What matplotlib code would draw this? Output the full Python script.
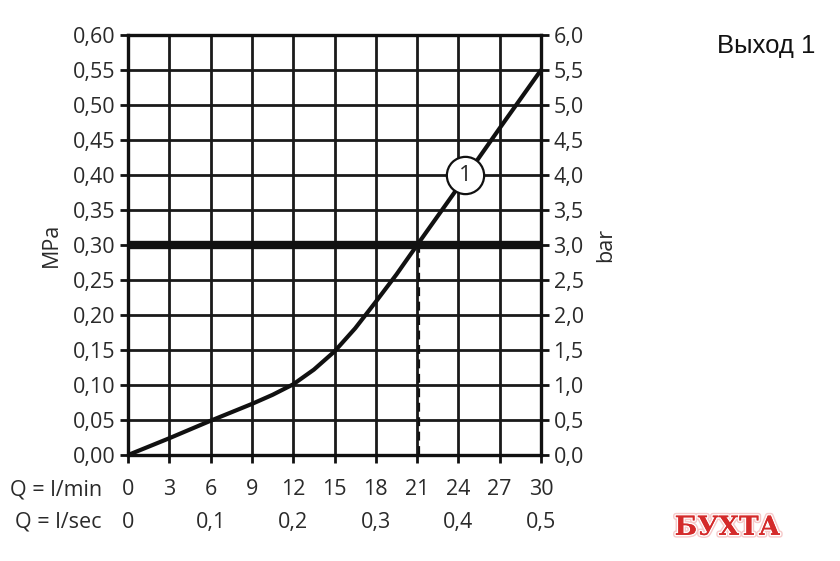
import numpy as np
import matplotlib.pyplot as plt
import matplotlib.patheffects as pe

# flow rate (l/min) vs pressure (MPa)
flow = [0, 3, 6, 9, 10.5, 12, 13.5, 15, 16.5, 18, 19.5, 21, 24, 27, 30]
pressure = [0, 0.024, 0.049, 0.073, 0.086, 0.101, 0.122, 0.148, 0.181, 0.219, 0.258, 0.30, 0.383, 0.467, 0.55]

x_ticks = [0, 3, 6, 9, 12, 15, 18, 21, 24, 27, 30]
sec_ticks = [0, 6, 12, 18, 24, 30]
sec_labels = ["0", "0,1", "0,2", "0,3", "0,4", "0,5"]
mpa_ticks = [0, 0.05, 0.10, 0.15, 0.20, 0.25, 0.30, 0.35, 0.40, 0.45, 0.50, 0.55, 0.60]
bar_labels = ["0,0", "0,5", "1,0", "1,5", "2,0", "2,5", "3,0", "3,5", "4,0", "4,5", "5,0", "5,5", "6,0"]

rated_pressure = 0.30
rated_flow = 21.1
marker_pos = (24.5, 0.40)

plt.rcParams['font.family'] = ['Open Sans', 'DejaVu Sans']
fs = 15.5
tc = '#2a2a2a'
fig = plt.figure(figsize=(8.4, 5.61), dpi=100)
ax = fig.add_axes([0.1524, 0.1889, 0.4917, 0.7487])

ax.set_xlim(0, 30)
ax.set_ylim(0, 0.6)
for x in x_ticks:
    ax.axvline(x, color='#1a1a1a', lw=2.0, zorder=1)
for y in mpa_ticks:
    ax.axhline(y, color='#1a1a1a', lw=2.0, zorder=1)

ax.axhline(rated_pressure, color='#111111', lw=6, zorder=2)
ax.plot([rated_flow, rated_flow], [0, rated_pressure], color='#111111',
        lw=1.6, ls=(0, (4, 2.5)), zorder=2)
ax.plot(flow, pressure, color='#111111', lw=3, zorder=3,
        solid_capstyle='round', solid_joinstyle='round')

ax.scatter([marker_pos[0]], [marker_pos[1]], s=720, facecolor='white',
           edgecolor='#111111', linewidth=1.6, zorder=4)
ax.text(marker_pos[0], marker_pos[1], "1", ha='center', va='center',
        fontsize=16, color=tc, zorder=5)

for s in ax.spines.values():
    s.set_linewidth(2.4)
    s.set_color('#111111')

ax.set_yticks(mpa_ticks)
ax.set_yticklabels(["{:.2f}".format(v).replace('.', ',') for v in mpa_ticks])
ax.set_xticks(x_ticks)
ax.set_xticklabels([])
ax.tick_params(axis='both', length=6, width=2, color='#111111',
               labelsize=fs, labelcolor=tc, pad=3)
ax.set_ylabel("MPa", fontsize=fs, color=tc, labelpad=8)

ax2 = ax.twinx()
ax2.set_ylim(0, 0.6)
ax2.set_yticks(mpa_ticks)
ax2.set_yticklabels(bar_labels)
ax2.tick_params(axis='y', length=6, width=2, color='#111111',
                labelsize=fs, labelcolor=tc, pad=3)
ax2.set_ylabel("bar", fontsize=fs, color=tc, rotation=90, labelpad=8)
for s in ax2.spines.values():
    s.set_visible(False)

# bottom label rows
trans = ax.get_xaxis_transform()
for x in x_ticks:
    ax.text(x, -0.083, str(x), transform=trans, ha='center', va='center',
            fontsize=fs, color=tc)
for x, lab in zip(sec_ticks, sec_labels):
    ax.text(x, -0.16, lab, transform=trans, ha='center', va='center',
            fontsize=fs, color=tc)
ax.text(-1.9, -0.083, "Q = l/min", transform=trans, ha='right', va='center',
        fontsize=fs, color=tc)
ax.text(-1.9, -0.16, "Q = l/sec", transform=trans, ha='right', va='center',
        fontsize=fs, color=tc)

fig.text(0.912, 0.918, "Выход 1", ha='center', va='center', fontsize=18.5,
         family=['Liberation Sans', 'DejaVu Sans'], color='#111111')

wm = fig.text(0.866, 0.06, "БУХТА", ha='center', va='center', fontsize=19,
              family=['DejaVu Serif', 'Liberation Serif'], weight='bold',
              color='#d42a2a')
wm.set_path_effects([pe.withStroke(linewidth=4, foreground='#f6c9c9'),
                     pe.withStroke(linewidth=2, foreground='white'), pe.Normal()])

fig.savefig("out.png", dpi=100)
